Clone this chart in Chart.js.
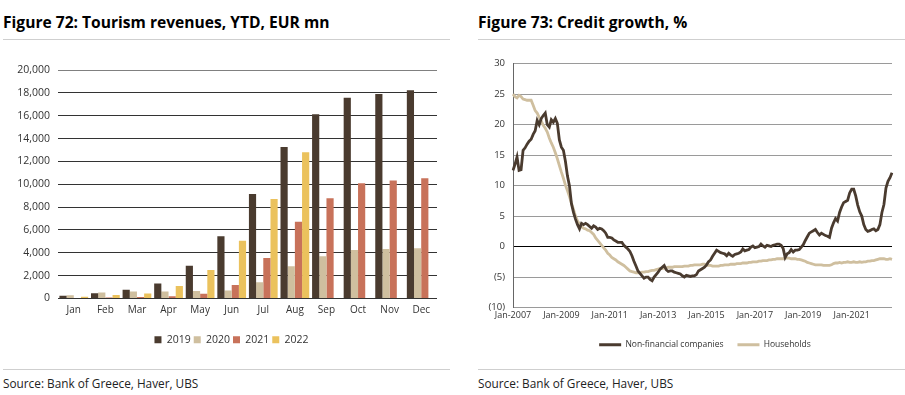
<!DOCTYPE html>
<html>
<head>
<meta charset="utf-8">
<script src="https://cdn.jsdelivr.net/npm/chart.js@4/dist/chart.umd.min.js"></script>
<style>
  body { margin: 0; background: #fff; font-family: 'Open Sans', sans-serif; color: #000; }
  .wrap { position: relative; width: 905px; height: 395px; overflow: hidden; }
  .title { position: absolute; top: 11px; font-weight: 700; font-size: 15.6px; }
  .rule { position: absolute; height: 1px; background: #cfcfcf; }
  .source { position: absolute; top: 375px; font-size: 11.8px; color: #222; }
  .box { position: absolute; }
</style>
</head>
<body>
<div class="wrap">
  <div class="title" style="left:3px">Figure 72: Tourism revenues, YTD, EUR mn</div>
  <div class="rule" style="left:3px; width:447px; top:39px"></div>
  <div class="title" style="left:478px">Figure 73: Credit growth, %</div>
  <div class="rule" style="left:478px; width:427px; top:39px"></div>

  <div class="box" style="left:0; top:50px; width:450px; height:305px"><canvas id="tourism"></canvas></div>
  <div class="box" style="left:460px; top:50px; width:445px; height:309px"><canvas id="credit"></canvas></div>

  <div class="rule" style="left:3px; width:447px; top:369px"></div>
  <div class="source" style="left:3px">Source: Bank of Greece, Haver, UBS</div>
  <div class="rule" style="left:478px; width:427px; top:369px"></div>
  <div class="source" style="left:478px">Source: Bank of Greece, Haver, UBS</div>
</div>

<script>
// --- Figure 72 data: YTD tourism revenues, EUR mn
const months = ['Jan', 'Feb', 'Mar', 'Apr', 'May', 'Jun', 'Jul', 'Aug', 'Sep', 'Oct', 'Nov', 'Dec'];
const rev2019 = [250, 450, 760, 1320, 2870, 5450, 9150, 13260, 16130, 17570, 17890, 18220];
const rev2020 = [290, 530, 620, 620, 650, 700, 1430, 2820, 3700, 4250, 4340, 4400];
const rev2021 = [40, 80, 130, 200, 410, 1180, 3550, 6720, 8770, 10090, 10330, 10530];
const rev2022 = [150, 300, 440, 1090, 2500, 5050, 8710, 12790, null, null, null, null];

// --- Figure 73 data: credit growth, % (monthly, Jan-2007 .. Sep-2022)
const creditStartYear = 2007;
const nonFinancial = [
  12.5, 13.5, 14.7, 12.5, 12.6, 15.8, 16.2, 16.8, 17.3, 17.6, 18.4, 19.0,
  20.7, 20.0, 21.0, 21.5, 21.9, 20.0, 19.6, 20.8, 20.4, 21.0, 20.2, 17.5,
  16.3, 15.8, 14.0, 11.6, 10.0, 7.0, 5.6, 4.5, 3.6, 2.9, 3.8, 3.6,
  3.8, 3.6, 3.3, 3.0, 3.4, 3.2, 2.8, 3.0, 2.9, 2.6, 2.2, 1.5,
  1.5, 1.4, 1.1, 0.9, 0.7, 0.7, 0.7, 0.2, -0.1, -0.4, -0.8, -1.5,
  -2.4, -3.2, -4.0, -4.4, -4.8, -5.2, -5.0, -5.0, -5.4, -5.6, -5.0, -4.6,
  -4.2, -3.7, -3.4, -3.1, -3.8, -4.1, -4.0, -4.0, -4.2, -4.3, -4.4, -4.5,
  -4.8, -5.0, -4.7, -4.8, -4.9, -4.8, -4.8, -4.6, -4.0, -3.8, -3.6, -3.4,
  -3.0, -2.5, -2.2, -1.6, -1.1, -0.6, -0.8, -1.0, -1.1, -1.2, -1.5, -1.1,
  -1.4, -1.6, -1.3, -1.2, -1.1, -0.9, -0.4, -0.7, -0.6, -0.5, -0.1, 0.1,
  -0.2, -0.1, 0.0, 0.4, 0.1, -0.1, 0.2, 0.1, 0.0, 0.2, 0.3, 0.4,
  0.4, 0.2, -0.3, -1.8, -1.2, -1.0, -0.5, -0.9, -0.6, -0.6, -0.5, -0.1,
  0.3, 1.0, 1.6, 2.2, 2.4, 2.6, 2.8, 2.3, 1.9, 2.2, 2.0, 1.8,
  1.7, 1.5, 3.0, 3.9, 4.6, 4.2, 5.6, 6.5, 7.2, 7.4, 7.6, 8.8,
  9.4, 9.4, 8.3, 6.8, 5.7, 5.0, 3.6, 2.8, 2.5, 2.6, 2.8, 2.9,
  2.6, 2.8, 3.6, 5.6, 6.9, 9.6, 10.7, 11.3, 12.1
];
const households = [
  25.0, 24.6, 24.4, 24.8, 24.6, 24.2, 24.1, 24.0, 24.0, 24.0, 23.2, 22.3,
  21.9, 21.2, 20.6, 19.9, 19.4, 18.8, 17.8, 17.0, 16.3, 15.4, 14.4, 13.3,
  12.2, 11.2, 10.1, 9.2, 8.2, 7.1, 6.1, 5.0, 4.2, 3.7, 3.3, 3.0,
  2.9, 2.7, 2.6, 2.3, 2.0, 1.4, 1.0, 0.6, 0.2, -0.2, -0.6, -1.1,
  -1.4, -1.8, -2.0, -2.2, -2.5, -2.7, -2.9, -3.1, -3.4, -3.7, -4.0, -4.1,
  -4.2, -4.3, -4.3, -4.3, -4.2, -4.2, -4.1, -4.1, -4.0, -3.9, -3.9, -3.8,
  -3.7, -3.6, -3.6, -3.5, -3.5, -3.4, -3.4, -3.4, -3.3, -3.3, -3.3, -3.3,
  -3.3, -3.2, -3.2, -3.2, -3.1, -3.1, -3.0, -3.0, -3.0, -3.0, -2.9, -2.9,
  -3.1, -3.1, -3.1, -3.2, -3.2, -3.2, -3.2, -3.1, -3.1, -3.0, -3.0, -3.0,
  -2.9, -2.9, -2.9, -2.8, -2.8, -2.8, -2.7, -2.7, -2.7, -2.6, -2.6, -2.5,
  -2.5, -2.5, -2.4, -2.4, -2.3, -2.3, -2.3, -2.2, -2.2, -2.1, -2.1, -2.0,
  -2.0, -2.0, -2.0, -1.9, -1.9, -1.9, -2.0, -2.0, -2.0, -2.1, -2.1, -2.2,
  -2.3, -2.4, -2.6, -2.7, -2.8, -2.9, -3.0, -3.0, -3.0, -3.0, -3.1, -3.1,
  -3.1, -3.1, -3.0, -2.8, -2.7, -2.7, -2.6, -2.7, -2.6, -2.6, -2.5, -2.6,
  -2.6, -2.5, -2.6, -2.6, -2.5, -2.6, -2.5, -2.5, -2.4, -2.4, -2.3, -2.3,
  -2.2, -2.1, -2.0, -2.0, -2.0, -2.1, -2.1, -2.0, -2.1
];

// month labels like "Jan-2007"
const creditLabels = nonFinancial.map((v, i) =>
  months[i % 12] + '-' + (creditStartYear + Math.floor(i / 12)));

const dark = '#4a3b2f', beige = '#cfbf9f', terra = '#c8725a', gold = '#ebc25d';
const font = "'Open Sans', sans-serif";

Chart.defaults.animation = false;
Chart.defaults.font.family = font;
Chart.defaults.color = '#333';

// nudge the legend sideways so it sits under the plot area like the original
const legendShift = {
  id: 'legendShift',
  afterLayout(chart, args, opts) {
    if (chart.legend && opts.dx) {
      chart.legend.left += opts.dx;
      chart.legend.right += opts.dx;
    }
  }
};

new Chart(document.getElementById('tourism'), {
  type: 'bar',
  plugins: [legendShift],
  data: {
    labels: months,
    datasets: [
      { label: '2019', data: rev2019, backgroundColor: dark },
      { label: '2020', data: rev2020, backgroundColor: beige },
      { label: '2021', data: rev2021, backgroundColor: terra },
      { label: '2022', data: rev2022, backgroundColor: gold }
    ]
  },
  options: {
    responsive: true,
    maintainAspectRatio: false,
    layout: { padding: { top: 20, left: 6, right: 13, bottom: 0 } },
    datasets: { bar: { categoryPercentage: 0.91, barPercentage: 1.0 } },
    plugins: {
      tooltip: { enabled: false },
      legendShift: { dx: 10 },
      legend: {
        position: 'bottom',
        labels: { boxWidth: 7, boxHeight: 7, padding: 3, font: { size: 10.5 }, color: '#333' }
      }
    },
    scales: {
      x: {
        grid: { display: false, drawTicks: false },
        border: { display: false },
        ticks: { font: { size: 10 }, padding: 6 },
        afterFit: s => { s.height = 33; }
      },
      y: {
        min: 0, max: 20000,
        ticks: { stepSize: 2000, font: { size: 10.5 }, padding: 8,
                 callback: v => v.toLocaleString('en-US') },
        grid: { color: ctx => ctx.tick && ctx.tick.value === 20000 ? '#808080' : '#333',
                drawTicks: false, lineWidth: 1 },
        border: { display: false },
        afterFit: s => { s.width = 52; }
      }
    }
  }
});

new Chart(document.getElementById('credit'), {
  type: 'line',
  plugins: [legendShift],
  data: {
    labels: creditLabels,
    datasets: [
      { label: 'Non-financial companies', data: nonFinancial, borderColor: dark,
        backgroundColor: dark, borderWidth: 2.8, pointRadius: 0 },
      { label: 'Households', data: households, borderColor: beige,
        backgroundColor: beige, borderWidth: 2.8, pointRadius: 0 }
    ]
  },
  options: {
    responsive: true,
    maintainAspectRatio: false,
    layout: { padding: { top: 12, left: 0, right: 13, bottom: 0 } },
    plugins: {
      tooltip: { enabled: false },
      legendShift: { dx: 29 },
      legend: {
        position: 'bottom',
        labels: {
          boxWidth: 22, boxHeight: 3, padding: 14, font: { size: 8.5 }, color: '#333',
          generateLabels: chart => Chart.defaults.plugins.legend.labels.generateLabels(chart)
            .map(item => Object.assign(item, { lineWidth: 0 }))
        }
      }
    },
    scales: {
      x: {
        grid: { display: false, drawTicks: false },
        border: { display: false },
        ticks: {
          autoSkip: false, maxRotation: 0, font: { size: 9 }, padding: 3,
          callback: function(val, i) { return i % 24 === 0 ? this.getLabelForValue(val) : null; }
        },
        afterFit: s => { s.height = 19; }
      },
      y: {
        min: -10, max: 30,
        ticks: { stepSize: 5, font: { size: 9.5 }, padding: 8,
                 callback: v => v < 0 ? '(' + (-v) + ')' : v },
        grid: { color: ctx => ctx.tick && ctx.tick.value === 0 ? '#000' : '#9a9a9a',
                drawTicks: false, lineWidth: 1 },
        border: { display: true, color: '#666', width: 1 },
        afterFit: s => { s.width = 53; }
      }
    }
  }
});
</script>
</body>
</html>
